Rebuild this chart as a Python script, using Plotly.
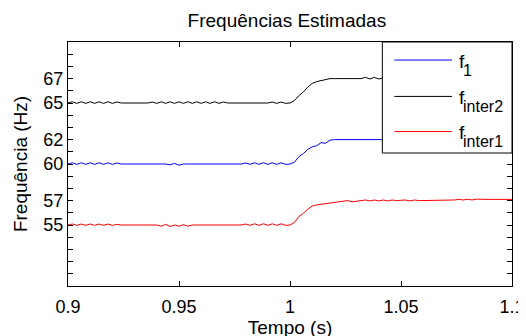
import plotly.graph_objects as go

# Time samples (s)
tempo = [
    0.900, 0.902, 0.904, 0.906, 0.908, 0.910, 0.912, 0.914, 0.916, 0.918,
    0.920, 0.922, 0.924, 0.926, 0.928, 0.930, 0.932, 0.934, 0.936, 0.938,
    0.940, 0.942, 0.944, 0.946, 0.948, 0.950, 0.952, 0.954, 0.956, 0.958,
    0.960, 0.962, 0.964, 0.966, 0.968, 0.970, 0.972, 0.974, 0.976, 0.978,
    0.980, 0.982, 0.984, 0.986, 0.988, 0.990, 0.992, 0.994, 0.996, 0.998,
    1.000, 1.002, 1.004, 1.006, 1.008, 1.010, 1.012, 1.014, 1.016, 1.018,
    1.020, 1.022, 1.024, 1.026, 1.028, 1.030, 1.032, 1.034, 1.036, 1.038,
    1.040, 1.042, 1.044, 1.046, 1.048, 1.050, 1.052, 1.054, 1.056, 1.058,
    1.060, 1.062, 1.064, 1.066, 1.068, 1.070, 1.072, 1.074, 1.076, 1.078,
    1.080, 1.082, 1.084, 1.086, 1.088, 1.090, 1.092, 1.094, 1.096, 1.098,
    1.100,
]

f_1 = [
    60.0, 60.1, 59.97, 60.1, 59.97, 60.1, 59.97, 60.1, 59.97, 60.1,
    59.97, 60.08, 60.0, 60.0, 60.0, 60.0, 60.0, 60.0, 60.0, 60.0,
    60.0, 60.0, 60.0, 59.93, 60.05, 59.9, 60.0, 60.0, 60.0, 60.0,
    60.0, 60.0, 60.0, 60.0, 60.0, 60.0, 60.0, 60.0, 60.0, 60.0,
    60.08, 59.97, 60.1, 59.97, 60.1, 59.97, 60.1, 59.97, 60.1, 59.97,
    60.0, 60.15, 60.6, 60.85, 61.2, 61.4, 61.5, 61.75, 61.7, 61.95,
    62.0, 62.0, 62.0, 62.0, 62.0, 62.0, 62.0, 62.0, 62.0, 62.0,
    62.0, 62.0, 62.0, 62.0, 62.0, 62.0, 62.0, 62.0, 62.0, 62.0,
    62.0, 62.0, 62.0, 62.0, 62.0, 62.0, 62.0, 62.0, 62.0, 62.0,
    62.0, 62.0, 62.0, 62.0, 62.0, 62.0, 62.0, 62.0, 62.0, 62.0,
    62.0,
]

f_inter2 = [
    65.0, 65.1, 64.97, 65.1, 64.97, 65.1, 64.97, 65.1, 64.97, 65.1,
    64.97, 65.08, 65.0, 65.0, 65.0, 65.0, 65.0, 65.0, 65.0, 65.08,
    64.97, 65.1, 64.97, 65.1, 64.97, 65.1, 64.97, 65.1, 64.97, 65.1,
    64.97, 65.1, 64.97, 65.1, 64.97, 65.08, 65.0, 65.0, 65.0, 65.0,
    65.0, 65.0, 65.0, 65.0, 65.0, 65.0, 65.08, 64.97, 65.08, 64.97,
    65.0, 65.2, 65.6, 65.9, 66.3, 66.6, 66.75, 66.85, 66.95, 67.0,
    67.0, 67.0, 67.0, 67.0, 67.0, 67.0, 67.0, 67.1, 66.97, 67.1,
    66.97, 67.05, 67.0, 67.0, 67.0, 67.0, 67.0, 67.0, 67.0, 67.0,
    67.0, 67.0, 67.0, 67.0, 67.0, 67.0, 67.0, 67.0, 67.0, 67.0,
    67.0, 67.0, 67.0, 67.0, 67.0, 67.0, 67.0, 67.0, 67.0, 67.0,
    67.0,
]

f_inter1 = [
    55.0, 55.08, 54.97, 55.08, 54.97, 55.08, 54.97, 55.08, 54.97, 55.08,
    54.97, 55.05, 55.0, 55.0, 55.0, 55.0, 55.0, 55.0, 55.0, 55.0,
    55.0, 54.9, 55.05, 54.88, 55.0, 54.9, 55.03, 54.9, 55.0, 55.0,
    55.0, 55.0, 55.0, 55.0, 55.0, 55.0, 55.0, 55.0, 55.0, 55.0,
    55.08, 54.97, 55.1, 54.97, 55.1, 54.97, 55.1, 54.97, 55.1, 54.97,
    55.0, 55.2, 55.7, 55.95, 56.3, 56.55, 56.65, 56.7, 56.75, 56.8,
    56.85, 56.9, 56.95, 57.0, 56.9, 56.95, 57.0, 57.05, 56.97, 57.05,
    56.97, 57.05, 56.97, 57.05, 57.0, 57.0, 57.05, 56.97, 57.05, 57.0,
    57.0, 57.0, 57.0, 57.0, 57.0, 57.0, 57.0, 57.05, 57.1, 57.05,
    57.12, 57.05, 57.12, 57.08, 57.1, 57.1, 57.1, 57.1, 57.1, 57.1,
    57.1,
]

y_tick_vals = [55, 57, 60, 62, 65, 67]
y_tick_text = ["55", "57", "60", "62", "65", "67"]
x_tick_vals = [0.9, 0.95, 1.0, 1.05, 1.1]
x_tick_text = ["0.9", "0.95", "1", "1.05", "1.1"]

series_main = ["f", "f", "f"]
series_sub = ["1", "inter2", "inter1"]
series_colors = ["#0000ff", "#000000", "#ff0000"]
series_values = [f_1, f_inter2, f_inter1]

FONT = "Liberation Sans, Arial, sans-serif"

fig = go.Figure()
for main, sub, col, vals in zip(series_main, series_sub, series_colors, series_values):
    fig.add_trace(go.Scatter(x=tempo, y=vals, mode="lines", name=f"{main}<sub>{sub}</sub>",
                             line=dict(color=col, width=1), showlegend=False))

# Manual MATLAB-style legend (paper coordinates of the plot area)
leg_x0, leg_x1, leg_y0, leg_y1 = 0.708, 1.0, 0.545, 1.0
fig.add_shape(type="rect", xref="paper", yref="paper", x0=leg_x0, x1=leg_x1,
              y0=leg_y0, y1=leg_y1, line=dict(color="black", width=1),
              fillcolor="white", layer="above")
row_y = [0.926, 0.777, 0.633]
for main, sub, col, ry in zip(series_main, series_sub, series_colors, row_y):
    fig.add_shape(type="line", xref="paper", yref="paper", x0=0.735, x1=0.865,
                  y0=ry, y1=ry, line=dict(color=col, width=1), layer="above")
    fig.add_annotation(xref="paper", yref="paper", x=0.876, y=ry, yshift=-1,
                       text=main, showarrow=False, xanchor="left", yanchor="middle",
                       font=dict(family=FONT, size=19, color="black"))
    fig.add_annotation(xref="paper", yref="paper", x=0.876, y=ry, xshift=4, yshift=-10,
                       text=sub, showarrow=False, xanchor="left", yanchor="middle",
                       font=dict(family=FONT, size=16, color="black"))

# The page body adds an 8 px offset; margins are set so the plot area lands
# at x 68..512, y 42..286 of the window.
fig.update_layout(
    width=526, height=336,
    margin=dict(l=60, r=22, t=34, b=58),
    paper_bgcolor="white", plot_bgcolor="white",
    font=dict(family=FONT, size=18, color="black"),
    title=dict(text="Frequências Estimadas", x=0.493, xref="paper",
               y=0.964, yref="container", xanchor="center", yanchor="middle",
               font=dict(family=FONT, size=19, color="black")),
)
fig.update_xaxes(
    range=[0.9, 1.1], tickvals=x_tick_vals, ticktext=x_tick_text,
    ticks="inside", ticklen=5, tickcolor="black", showgrid=False, zeroline=False,
    showline=True, linecolor="black", linewidth=1, mirror="ticks",
    ticklabelstandoff=4, automargin=False,
    tickfont=dict(family=FONT, size=18),
    title=dict(text="Tempo (s)", standoff=4, font=dict(family=FONT, size=19)),
)
fig.update_yaxes(
    range=[50, 70], tickvals=y_tick_vals, ticktext=y_tick_text,
    ticks="inside", ticklen=5, tickcolor="black", showgrid=False, zeroline=False,
    showline=True, linecolor="black", linewidth=1, mirror="ticks",
    minor=dict(dtick=1, ticks="inside", ticklen=5, tickcolor="black", showgrid=False),
    ticklabelstandoff=0, automargin=False,
    tickfont=dict(family=FONT, size=18),
    title=dict(text="Frequência (Hz)", standoff=10, font=dict(family=FONT, size=19)),
)

fig.write_html("out.html")
